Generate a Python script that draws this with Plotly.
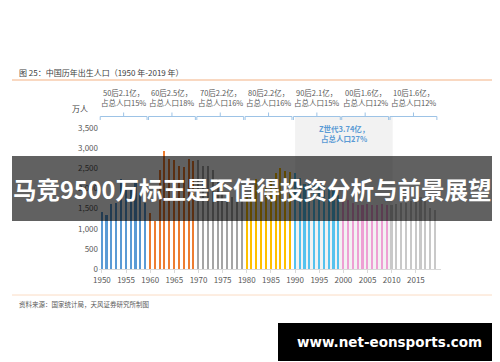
import plotly.graph_objects as go

years = list(range(1950, 2020))
births = [1419, 1349, 1622, 1637, 2232, 1965, 1961, 2138, 1889, 1635,
          1389, 1187, 2451, 2934, 2721, 2704, 2554, 2543, 2731, 2690,
          2710, 2551, 2550, 2447, 2226, 2102, 1849, 1783, 1733, 1715,
          1776, 2064, 2230, 2052, 2050, 2196, 2374, 2508, 2445, 2396,
          2374, 2250, 2113, 2120, 2098, 2052, 2057, 2028, 1934, 1827,
          1771, 1702, 1647, 1599, 1593, 1617, 1585, 1595, 1608, 1591,
          1592, 1604, 1635, 1640, 1687, 1655, 1786, 1723, 1523, 1465]
decade_starts = [1950, 1960, 1970, 1980, 1990, 2000, 2010]
decade_colors = ["#5B9BD5", "#ED7D31", "#A5A5A5", "#FFC000", "#55C2EE", "#EEA0D4", "#C9C9C9"]
decade_labels = ["50后2.1亿，<br>占总人口15%", "60后2.5亿，<br>占总人口18%", "70后2.2亿，<br>占总人口16%",
                 "80后2.2亿，<br>占总人口16%", "90后2.1亿，<br>占总人口15%", "00后1.6亿，<br>占总人口12%",
                 "10后1.6亿，<br>占总人口12%"]
z_label = "Z世代3.74亿，<br>占总人口27%"
title_text = "图 25：中国历年出生人口（1950 年-2019 年）"
source_text = "资料来源：国家统计局，天风证券研究所制图"
banner_text = "马竞9500万标王是否值得投资分析与前景展望"
site_text = "www.net-eonsports.com"

FONT = "Noto Sans CJK SC"
W_FIG, H_FIG = 500, 362
L, R, T, B = 91, 433, 120, 261
PW, PH = R - L, B - T

def px(x):
    return (x - L) / PW

def py(y):
    return (B - y) / PH

colors = [decade_colors[(y - 1950) // 10] for y in years]

fig = go.Figure()
fig.add_trace(go.Bar(x=years, y=births, marker=dict(color=colors, line=dict(width=0)),
                     width=0.33, hoverinfo="x+y"))

shapes = []
annotations = []

# Z generation shaded box
shapes.append(dict(type="rect", xref="x", yref="paper", x0=1990.0, x1=2010.2, y0=0, y1=py(108),
                   fillcolor="#F2F2F2", line=dict(width=0), layer="below"))

# decade brackets
bc = "#9DC3E6"
for d, lab in zip(decade_starts, decade_labels):
    x0, x1 = d - 0.35, d + 9.35
    xm = d + 4.5
    yl = py(108.5)
    shapes.append(dict(type="line", xref="x", yref="paper", x0=x0, x1=x1, y0=yl, y1=yl, line=dict(color=bc, width=1)))
    shapes.append(dict(type="line", xref="x", yref="paper", x0=x0, x1=x0, y0=yl, y1=py(112), line=dict(color=bc, width=1)))
    shapes.append(dict(type="line", xref="x", yref="paper", x0=x1, x1=x1, y0=yl, y1=py(112), line=dict(color=bc, width=1)))
    shapes.append(dict(type="line", xref="x", yref="paper", x0=xm, x1=xm, y0=yl, y1=py(104.5), line=dict(color=bc, width=1)))
    annotations.append(dict(xref="x", yref="paper", x=xm, y=py(90), text=lab, showarrow=False,
                            font=dict(family=FONT, size=7.5, color="#595959"), align="center",
                            xanchor="center", yanchor="middle"))

annotations.append(dict(xref="x", yref="paper", x=2000.1, y=py(125.5), text="<b>" + z_label + "</b>", showarrow=False,
                        font=dict(family=FONT, size=7.5, color="#5B9BD5"), align="center",
                        xanchor="center", yanchor="middle"))

# title & lines
annotations.append(dict(xref="paper", yref="paper", x=px(9), y=py(64), text=title_text, showarrow=False,
                        font=dict(family=FONT, size=8, color="#404040"), xanchor="left", yanchor="middle"))
shapes.append(dict(type="line", xref="paper", yref="paper", x0=px(4), x1=px(496), y0=py(72), y1=py(72),
                   line=dict(color="#F4B183", width=1.2)))
annotations.append(dict(xref="paper", yref="paper", x=px(82), y=py(101), text="万人", showarrow=False,
                        font=dict(family=FONT, size=8, color="#404040"), xanchor="right", yanchor="middle"))
shapes.append(dict(type="line", xref="paper", yref="paper", x0=px(4), x1=px(496), y0=py(287), y1=py(287),
                   line=dict(color="#FBDCC4", width=1)))
annotations.append(dict(xref="paper", yref="paper", x=px(9), y=py(296), text=source_text, showarrow=False,
                        font=dict(family=FONT, size=6.5, color="#595959"), xanchor="left", yanchor="middle"))

# banner overlay
shapes.append(dict(type="rect", xref="paper", yref="paper", x0=px(4), x1=px(497), y0=py(213), y1=py(148),
                   fillcolor="rgba(0,0,0,0.62)", line=dict(width=0), layer="above"))
annotations.append(dict(xref="paper", yref="paper", x=px(3), y=py(181), text="<b>" + banner_text + "</b>",
                        showarrow=False, font=dict(family=FONT, size=23.5, color="white"),
                        xanchor="left", yanchor="middle"))

# site box
shapes.append(dict(type="rect", xref="paper", yref="paper", x0=px(270), x1=px(492), y0=py(353), y1=py(315),
                   fillcolor="black", line=dict(width=0), layer="above"))
annotations.append(dict(xref="paper", yref="paper", x=px(381), y=py(334), text="<b>" + site_text + "</b>",
                        showarrow=False, font=dict(family="DejaVu Sans", size=13.5, color="white"),
                        xanchor="center", yanchor="middle"))

fig.update_layout(
    width=W_FIG, height=H_FIG,
    margin=dict(l=L, r=W_FIG - R, t=T, b=H_FIG - B, pad=0),
    paper_bgcolor="white", plot_bgcolor="rgba(0,0,0,0)",
    showlegend=False, bargap=0,
    shapes=shapes, annotations=annotations,
    font=dict(family=FONT, size=8, color="#595959"),
    xaxis=dict(range=[1949.4, 2020.2], tickmode="array", tickvals=list(range(1950, 2020, 5)),
               ticktext=[str(v) for v in range(1950, 2020, 5)], showgrid=False, zeroline=False,
               showline=True, linecolor="#D9D9D9", linewidth=1, ticks="outside", ticklen=3,
               tickcolor="#D9D9D9", tickfont=dict(family=FONT, size=8, color="#595959")),
    yaxis=dict(range=[0, 3500], tickvals=[0, 500, 1000, 1500, 2000, 2500, 3000, 3500], tickformat=",",
               showgrid=False, zeroline=False, showline=False, ticks="",
               tickfont=dict(family=FONT, size=8, color="#595959")),
)

fig.write_html("out.html")
